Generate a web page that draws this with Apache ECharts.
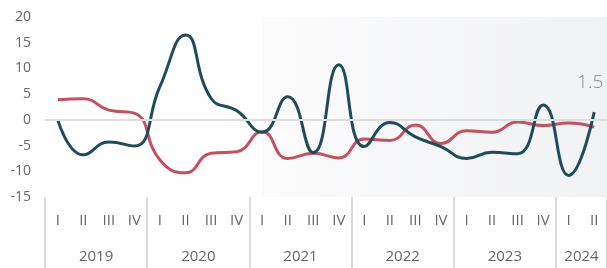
<!DOCTYPE html>
<html>
<head>
<meta charset="utf-8">
<script src="https://cdn.jsdelivr.net/npm/echarts@6/dist/echarts.min.js"></script>
<style>
  html, body { margin: 0; padding: 0; background: #fff; }
  #main { width: 607px; height: 268px; }
</style>
</head>
<body>
<div id="main"></div>
<script>
// quarters 2019 Q1 .. 2024 Q2
var years = ['2019', '2020', '2021', '2022', '2023', '2024'];
var quarterNames = ['I', 'II', 'III', 'IV'];
var categories = [];
years.forEach(function (y) {
   quarterNames.forEach(function (q) {
      if (categories.length < 22) categories.push(y + ' ' + q);
   });
});

// dark blue series
var blueValues = [0, -6.8, -4.3, -5.1, 6.5, 16.5, 4.2, 1.8, -2.4, 4.5, -6.4, 10.7,
   -5.2, -0.5, -3.3, -5.2, -7.5, -6.3, -6.6, 2.9, -10.8, 1.5];
// red series
var redValues = [3.9, 4.1, 1.9, 1.3, -7.8, -10.3, -6.5, -6.2, -2.3, -7.5, -6.5, -7.4,
   -3.7, -4.0, -1.0, -4.6, -2.1, -2.4, -0.4, -1.1, -0.6, -1.4];

var chart = echarts.init(document.getElementById('main'));

// only the last blue point gets its value written above it
var blueData = blueValues.map(function (v, i) {
   if (i == blueValues.length - 1) {
      return {
         value: v,
         symbol: 'circle',
         symbolSize: 2,
         itemStyle: { color: 'rgba(0,0,0,0)', borderWidth: 0 },
         label: {
            show: true,
            position: 'top',
            distance: 19,
            offset: [-4, 0],
            formatter: '{c}',
            fontSize: 19,
            fontWeight: 300,
            fontFamily: 'Open Sans',
            color: '#8a8a8a'
         }
      };
   }
   return v;
});

var yearStart = function (i) { return i % 4 === 0; };

var option = {
   animation: false,
   grid: [
      { left: 45, right: 0, top: 17, bottom: 71 },
      // band under the plot, only used for the year separators
      { left: 45, right: 0, top: 197, bottom: 0 }
   ],
   xAxis: [
      {
         type: 'category',
         gridIndex: 0,
         data: categories,
         position: 'bottom',
         boundaryGap: true,
         axisLine: { show: false },
         axisTick: { show: false },
         axisLabel: {
            interval: 0,
            margin: 16,
            fontSize: 15,
            fontFamily: 'Open Sans',
            color: '#666',
            formatter: function (v) { return v.split(' ')[1]; }
         },
         splitLine: { show: false }
      },
      {
         type: 'category',
         gridIndex: 0,
         data: categories,
         position: 'bottom',
         boundaryGap: true,
         axisLine: { show: false },
         axisTick: { show: false },
         axisLabel: {
            interval: 0,
            margin: 52,
            fontSize: 15,
            fontFamily: 'Open Sans',
            color: '#666',
            padding: [0, 0, 0, 25.6],
            formatter: function (v, i) {
               // label sits in the middle of each year group
               if (i % 4 === 1 && i < 20) return v.split(' ')[0];
               if (i === 20) return v.split(' ')[0];
               return '';
            }
         },
         splitLine: { show: false }
      },
      {
         type: 'category',
         gridIndex: 1,
         data: categories,
         boundaryGap: true,
         axisLine: { show: false },
         axisTick: { show: false },
         axisLabel: { show: false },
         splitLine: {
            show: true,
            interval: yearStart,
            lineStyle: { color: '#dcdcdc', width: 2 }
         }
      }
   ],
   yAxis: [
      {
         type: 'value',
         gridIndex: 0,
         min: -15,
         max: 20,
         interval: 5,
         axisLine: { show: false },
         axisTick: { show: false },
         splitLine: { show: false },
         axisLabel: {
            margin: 14,
            fontSize: 14,
            fontFamily: 'Open Sans',
            color: '#666'
         }
      },
      {
         type: 'value',
         gridIndex: 1,
         min: 0,
         max: 1,
         show: false,
         splitLine: { show: false }
      }
   ],
   series: [
      {
         name: 'red',
         type: 'line',
         data: redValues,
         smooth: true,
         symbol: 'none',
         lineStyle: { color: '#c2525f', width: 3 },
         itemStyle: { color: '#c2525f' },
         z: 3,
         markArea: {
            silent: true,
            itemStyle: {
               color: new echarts.graphic.LinearGradient(0, 0, 1, 0, [
                  { offset: 0, color: '#fbfbfc' },
                  { offset: 1, color: '#f1f2f4' }
               ])
            },
            data: [[{ xAxis: '2021 I' }, {}]]
         },
         markLine: {
            silent: true,
            symbol: 'none',
            label: { show: false },
            lineStyle: { color: '#dddddd', width: 2, type: 'solid' },
            data: [{ yAxis: 0 }]
         }
      },
      {
         name: 'blue',
         type: 'line',
         data: blueData,
         smooth: true,
         symbol: 'circle',
         showSymbol: true,
         symbolSize: 0,
         lineStyle: { color: '#1f4b5b', width: 3 },
         itemStyle: { color: '#1f4b5b' },
         z: 4
      }
   ]
};

chart.setOption(option);
</script>
</body>
</html>
